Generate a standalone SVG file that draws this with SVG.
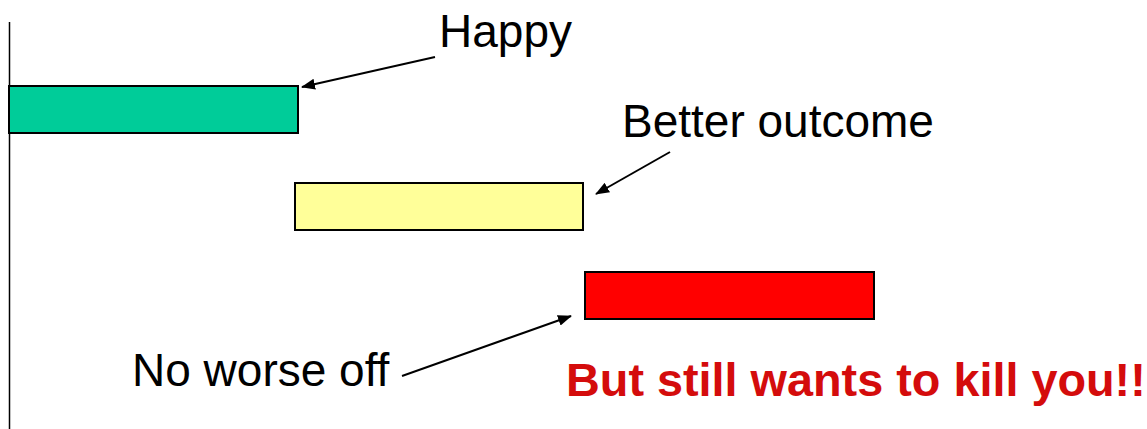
<svg xmlns="http://www.w3.org/2000/svg" width="1147" height="429" viewBox="0 0 1147 429">
<defs>
<style>
.bar{stroke:#000;stroke-width:2}
.lbl{font-family:"Liberation Sans",Arial,sans-serif;font-size:46px;fill:#000}
.warn{font-family:"Liberation Sans",Arial,sans-serif;font-size:46.8px;font-weight:bold;fill:#d40c0c}
.conn{stroke:#000;stroke-width:2;fill:none;marker-end:url(#ah)}
</style>
<marker id="ah" markerWidth="14" markerHeight="11" refX="13" refY="5.5" orient="auto" markerUnits="userSpaceOnUse" viewBox="0 0 14 11">
<path d="M0,0 L14,5.5 L0,11 Z" fill="#000"/>
</marker>
</defs>
<rect width="1147" height="429" fill="#fff"/>
<line x1="9.5" y1="22" x2="9.5" y2="429" stroke="#000" stroke-width="1.5"/>
<g id="happy">
<rect class="bar" x="9" y="86" width="289" height="47" fill="#00cc99"/>
<text class="lbl" x="439" y="47">Happy</text>
</g>
<g id="better">
<rect class="bar" x="295" y="183" width="288" height="47" fill="#ffff99"/>
<text class="lbl" x="622" y="137">Better outcome</text>
</g>
<g id="noworse">
<rect class="bar" x="585" y="272" width="289" height="47" fill="#ff0000"/>
<text class="lbl" x="132" y="386">No worse off</text>
</g>
<g id="warning">
<text class="warn" x="566" y="396">But still wants to kill you!!</text>
</g>
<g id="connectors">
<path class="conn" d="M435,57 L302,87"/>
<path class="conn" d="M670,152 L596,194"/>
<path class="conn" d="M402,376 L571,316"/>
</g>
</svg>
